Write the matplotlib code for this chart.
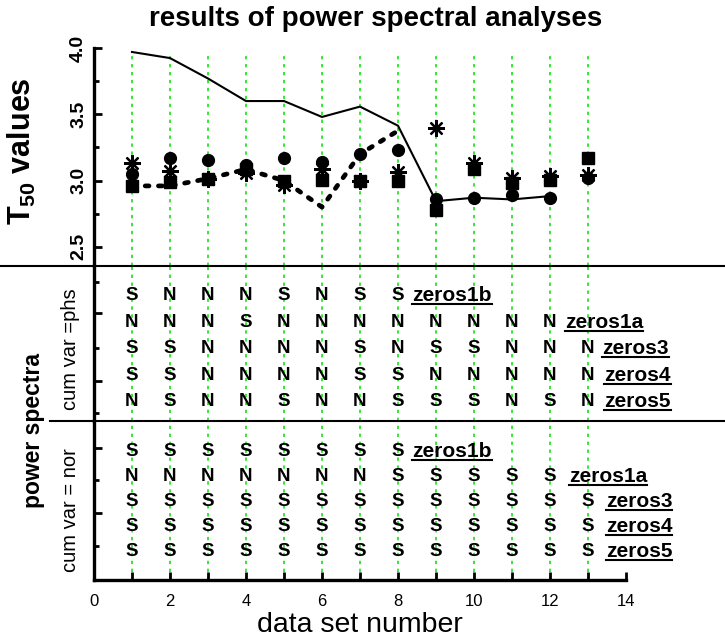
import numpy as np
import matplotlib
matplotlib.use("Agg")
import matplotlib.pyplot as plt
from matplotlib.lines import Line2D

plt.rcParams['font.family'] = ['Liberation Sans', 'DejaVu Sans']
plt.rcParams['mathtext.fontset'] = 'custom'
plt.rcParams['mathtext.rm'] = 'Liberation Sans'
plt.rcParams['mathtext.bf'] = 'Liberation Sans:bold'

# top panel: T50 values per data set
sets = np.arange(1, 14)
solid_x = np.arange(1, 13)
solid_y = [3.97, 3.924, 3.77, 3.60, 3.60, 3.48, 3.558, 3.414, 2.845, 2.871, 2.858, 2.883]
dotted_x = np.arange(1, 9)
dotted_y = [2.96, 2.96, 3.015, 3.085, 3.0, 2.80, 3.2, 3.376]
circles = [3.048, 3.174, 3.156, 3.12, 3.174, 3.14, 3.2, 3.232, 2.86, 2.871, 2.89, 2.866, 3.02]
squares = [2.96, 2.99, 3.015, 3.085, 3.0, 3.005, 3.0, 3.0, 2.78, 3.086, 2.985, 3.005, 3.174]
stars = [3.136, 3.073, 3.01, 3.06, 2.97, 3.085, 3.0, 3.065, 3.40, 3.136, 3.023, 3.035, 3.04]

# S / N results of the power spectra
row_names = ['zeros1b', 'zeros1a', 'zeros3', 'zeros4', 'zeros5']
phs_rows = ['SNNNSNSS', 'NNNSNNNNNNNN', 'SSNNNNSNSSNNN', 'SSNNNNSSNNNNN', 'NSNNSNNSSSNSN']
nor_rows = ['SSSSSSSS', 'NNNNNNNSSSSS', 'SSSSSSSSSSSSS', 'SSSSSSSSSSSSS', 'SSSSSSSSSSSSS']
phs_label_x = [8.37, 12.4, 13.37, 13.43, 13.43]
nor_label_x = [8.37, 12.5, 13.47, 13.47, 13.47]

W, H = 725, 640
fig = plt.figure(figsize=(W / 100, H / 100), dpi=100)

def box(top, bottom):
    return [94 / W, 1 - bottom / H, 532 / W, (bottom - top) / H]

ax1 = fig.add_axes(box(48, 266))
ax2 = fig.add_axes(box(266, 421))
ax3 = fig.add_axes(box(421, 580))

for ax in (ax1, ax2, ax3):
    ax.set_xlim(0, 14)
    for s in ('top', 'right', 'bottom'):
        ax.spines[s].set_visible(False)
    ax.spines['left'].set_linewidth(2.4)
    for x in sets:
        ax.axvline(x, color='#00e000', ls=(0, (2.2, 3)), lw=1.1, zorder=0,
                   ymax=0.98 if ax is ax1 else 1)
    ax.tick_params(axis='y', direction='in', width=2, length=6)
    ax.tick_params(axis='y', which='minor', direction='in', width=2, length=3.5)
    ax.tick_params(axis='x', bottom=False, labelbottom=False)

ax3.spines['bottom'].set_visible(True)
ax3.spines['bottom'].set_linewidth(2.4)
ax3.set_xticks(range(0, 15))
ax3.set_xticklabels([str(i) if i % 2 == 0 else '' for i in range(15)], fontsize=12)
ax3.tick_params(axis='x', bottom=True, labelbottom=True, direction='in',
                width=2, length=6, pad=10)
ax3.set_xlabel('data set number', fontsize=20.5, labelpad=2)

# top panel
ax1.set_ylim(2.356, 4.0)
ax1.set_yticks([2.5, 3.0, 3.5, 4.0])
ax1.set_yticks([2.75, 3.25, 3.75], minor=True)
ax1.set_yticklabels(['2.5', '3.0', '3.5', '4.0'], rotation=90, va='center',
                    fontsize=14, fontweight='bold')
ax1.tick_params(axis='y', pad=5)
ax1.plot(solid_x, solid_y, color='black', lw=1.5, zorder=2)
ax1.plot(dotted_x, dotted_y, color='black', lw=3.4, ls=(0, (0.8, 2.0)),
         dash_capstyle='round', zorder=2)
ax1.plot(sets, squares, 's', color='black', ms=8.5, zorder=3)
ax1.plot(sets, circles, 'o', color='black', ms=8.5, zorder=4)
ax1.plot(sets, stars, marker=(8, 2, 0), ls='none', color='black', ms=12,
         mew=1.6, zorder=5)

# letter panels
label_texts = []
def fill_panel(ax, rows, label_x, ylim, ticks_major, ticks_minor):
    ax.set_ylim(*ylim)
    ax.set_yticks(ticks_major)
    ax.set_yticks(ticks_minor, minor=True)
    ax.set_yticklabels([])
    n = len(rows)
    for i, (letters, name, lx) in enumerate(zip(rows, row_names, label_x)):
        r = n - i
        for j, ch in enumerate(letters):
            ax.text(j + 1, r, ch, ha='center', va='center', fontsize=13.5,
                    fontweight='bold')
        t = ax.text(lx, r, name, ha='left', va='center', fontsize=15,
                    fontweight='bold')
        label_texts.append(t)

fill_panel(ax2, phs_rows, phs_label_x, (0.283, 6.13), [4.36, 1.79], [5.53, 3.04, 0.585])
fill_panel(ax3, nor_rows, nor_label_x, (-0.17, 6.25), [5.16, 2.54], [3.87, 1.2])

# separators
fig.add_artist(Line2D([0, 1], [1 - 266 / H] * 2, color='black', lw=1.5))
fig.add_artist(Line2D([50 / W, 1], [1 - 421 / H] * 2, color='black', lw=1.5))

# titles and side labels
fig.text(376 / W, 1 - 19 / H, 'results of power spectral analyses', ha='center',
         va='center', fontsize=20, fontweight='bold')
fig.text(22 / W, 1 - 151 / H, r'$\mathbf{T_{50}}$ values', rotation=90,
         ha='center', va='center', fontsize=22, fontweight='bold')
fig.text(34 / W, 1 - 431 / H, 'power spectra', rotation=90, ha='center',
         va='center', fontsize=16.5, fontweight='bold')
fig.text(71 / W, 1 - 349 / H, 'cum var =phs', rotation=90, ha='center',
         va='center', fontsize=14.5)
fig.text(71 / W, 1 - 510 / H, 'cum var = nor', rotation=90, ha='center',
         va='center', fontsize=14.5)

# underline the row names
fig.canvas.draw()
renderer = fig.canvas.get_renderer()
for t in label_texts:
    bb = t.get_window_extent(renderer)
    y = (bb.y0 + 1) / H
    fig.add_artist(Line2D([bb.x0 / W, bb.x1 / W], [y, y], color='black', lw=1.5))

fig.savefig('out.png', dpi=100)
